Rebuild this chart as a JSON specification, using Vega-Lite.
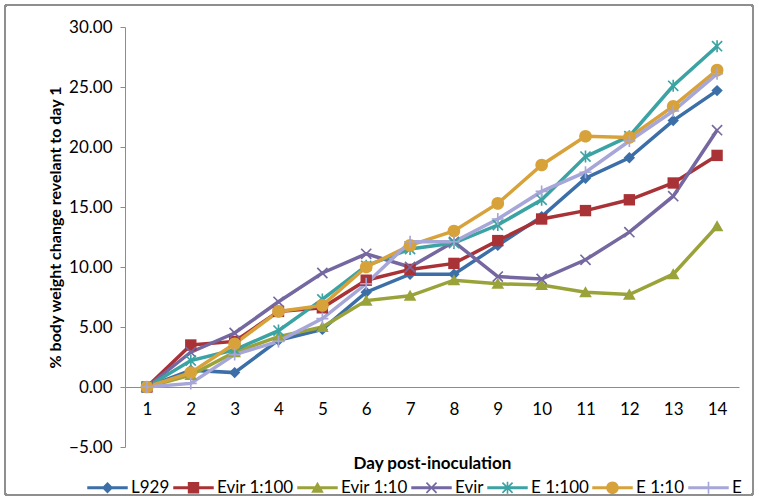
{
  "$schema": "https://vega.github.io/schema/vega-lite/v6.json",
  "width": 614,
  "height": 420,
  "autosize": {"type": "none"},
  "padding": {"left": 125, "top": 27, "right": 20, "bottom": 54},
  "background": "white",
  "config": {
    "view": {"stroke": null},
    "font": "Lato",
    "axis": {"grid": false, "labelFont": "Lato", "titleFont": "Lato", "labelColor": "#000000", "titleColor": "#000000"},
    "legend": {
      "title": null,
      "orient": "none",
      "direction": "horizontal",
      "columns": 7,
      "legendX": -26,
      "legendY": 452,
      "symbolSize": 160,
      "symbolOpacity": 1,
      "symbolStrokeWidth": 0,
      "labelFont": "Lato",
      "labelFontSize": 17,
      "labelColor": "#000000",
      "labelOffset": 15,
      "columnPadding": 3
    }
  },
  "data": {
    "values": [
      {"day": 1, "series": "L929", "value": 0},
      {"day": 2, "series": "L929", "value": 1.4},
      {"day": 3, "series": "L929", "value": 1.2},
      {"day": 4, "series": "L929", "value": 3.9},
      {"day": 5, "series": "L929", "value": 4.8},
      {"day": 6, "series": "L929", "value": 7.9},
      {"day": 7, "series": "L929", "value": 9.4},
      {"day": 8, "series": "L929", "value": 9.4},
      {"day": 9, "series": "L929", "value": 11.8},
      {"day": 10, "series": "L929", "value": 14.2},
      {"day": 11, "series": "L929", "value": 17.4},
      {"day": 12, "series": "L929", "value": 19.1},
      {"day": 13, "series": "L929", "value": 22.2},
      {"day": 14, "series": "L929", "value": 24.7},
      {"day": 1, "series": "Evir 1:100", "value": 0},
      {"day": 2, "series": "Evir 1:100", "value": 3.5},
      {"day": 3, "series": "Evir 1:100", "value": 3.8},
      {"day": 4, "series": "Evir 1:100", "value": 6.3},
      {"day": 5, "series": "Evir 1:100", "value": 6.6},
      {"day": 6, "series": "Evir 1:100", "value": 8.9},
      {"day": 7, "series": "Evir 1:100", "value": 9.8},
      {"day": 8, "series": "Evir 1:100", "value": 10.3},
      {"day": 9, "series": "Evir 1:100", "value": 12.2},
      {"day": 10, "series": "Evir 1:100", "value": 14.0},
      {"day": 11, "series": "Evir 1:100", "value": 14.7},
      {"day": 12, "series": "Evir 1:100", "value": 15.6},
      {"day": 13, "series": "Evir 1:100", "value": 17.0},
      {"day": 14, "series": "Evir 1:100", "value": 19.3},
      {"day": 1, "series": "Evir 1:10", "value": 0},
      {"day": 2, "series": "Evir 1:10", "value": 1.0},
      {"day": 3, "series": "Evir 1:10", "value": 2.9},
      {"day": 4, "series": "Evir 1:10", "value": 4.2},
      {"day": 5, "series": "Evir 1:10", "value": 5.0},
      {"day": 6, "series": "Evir 1:10", "value": 7.2},
      {"day": 7, "series": "Evir 1:10", "value": 7.6},
      {"day": 8, "series": "Evir 1:10", "value": 8.9},
      {"day": 9, "series": "Evir 1:10", "value": 8.6},
      {"day": 10, "series": "Evir 1:10", "value": 8.5},
      {"day": 11, "series": "Evir 1:10", "value": 7.9},
      {"day": 12, "series": "Evir 1:10", "value": 7.7},
      {"day": 13, "series": "Evir 1:10", "value": 9.4},
      {"day": 14, "series": "Evir 1:10", "value": 13.4},
      {"day": 1, "series": "Evir", "value": 0},
      {"day": 2, "series": "Evir", "value": 2.9},
      {"day": 3, "series": "Evir", "value": 4.5},
      {"day": 4, "series": "Evir", "value": 7.1},
      {"day": 5, "series": "Evir", "value": 9.5},
      {"day": 6, "series": "Evir", "value": 11.1},
      {"day": 7, "series": "Evir", "value": 10.0},
      {"day": 8, "series": "Evir", "value": 12.1},
      {"day": 9, "series": "Evir", "value": 9.2},
      {"day": 10, "series": "Evir", "value": 9.0},
      {"day": 11, "series": "Evir", "value": 10.6},
      {"day": 12, "series": "Evir", "value": 12.9},
      {"day": 13, "series": "Evir", "value": 15.9},
      {"day": 14, "series": "Evir", "value": 21.4},
      {"day": 1, "series": "E 1:100", "value": 0},
      {"day": 2, "series": "E 1:100", "value": 2.2},
      {"day": 3, "series": "E 1:100", "value": 3.1},
      {"day": 4, "series": "E 1:100", "value": 4.7},
      {"day": 5, "series": "E 1:100", "value": 7.3},
      {"day": 6, "series": "E 1:100", "value": 10.1},
      {"day": 7, "series": "E 1:100", "value": 11.5},
      {"day": 8, "series": "E 1:100", "value": 12.0},
      {"day": 9, "series": "E 1:100", "value": 13.5},
      {"day": 10, "series": "E 1:100", "value": 15.6},
      {"day": 11, "series": "E 1:100", "value": 19.2},
      {"day": 12, "series": "E 1:100", "value": 20.9},
      {"day": 13, "series": "E 1:100", "value": 25.1},
      {"day": 14, "series": "E 1:100", "value": 28.4},
      {"day": 1, "series": "E 1:10", "value": 0},
      {"day": 2, "series": "E 1:10", "value": 1.2},
      {"day": 3, "series": "E 1:10", "value": 3.6},
      {"day": 4, "series": "E 1:10", "value": 6.3},
      {"day": 5, "series": "E 1:10", "value": 6.8},
      {"day": 6, "series": "E 1:10", "value": 10.0},
      {"day": 7, "series": "E 1:10", "value": 11.8},
      {"day": 8, "series": "E 1:10", "value": 13.0},
      {"day": 9, "series": "E 1:10", "value": 15.3},
      {"day": 10, "series": "E 1:10", "value": 18.5},
      {"day": 11, "series": "E 1:10", "value": 20.9},
      {"day": 12, "series": "E 1:10", "value": 20.8},
      {"day": 13, "series": "E 1:10", "value": 23.4},
      {"day": 14, "series": "E 1:10", "value": 26.4},
      {"day": 1, "series": "E", "value": 0},
      {"day": 2, "series": "E", "value": 0.3},
      {"day": 3, "series": "E", "value": 2.7},
      {"day": 4, "series": "E", "value": 3.8},
      {"day": 5, "series": "E", "value": 5.7},
      {"day": 6, "series": "E", "value": 8.6},
      {"day": 7, "series": "E", "value": 12.1},
      {"day": 8, "series": "E", "value": 12.1},
      {"day": 9, "series": "E", "value": 14.0},
      {"day": 10, "series": "E", "value": 16.3},
      {"day": 11, "series": "E", "value": 17.9},
      {"day": 12, "series": "E", "value": 20.5},
      {"day": 13, "series": "E", "value": 23.0},
      {"day": 14, "series": "E", "value": 26.1}
    ]
  },
  "encoding": {
    "x": {
      "field": "day", "type": "quantitative",
      "scale": {"domain": [0.5, 14.5], "nice": false, "zero": false},
      "axis": {
        "title": "Day post-inoculation",
        "values": [1, 2, 3, 4, 5, 6, 7, 8, 9, 10, 11, 12, 13, 14],
        "format": "d",
        "offset": -60,
        "ticks": false,
        "domainColor": "#8c8c8c",
        "domainWidth": 1,
        "labelFontSize": 17,
        "labelPadding": 14,
        "titleFontSize": 17,
        "titleFontWeight": "bold",
        "titleY": 76,
        "titleBaseline": "middle"
      }
    },
    "y": {
      "field": "value", "type": "quantitative",
      "scale": {"domain": [-5, 30], "nice": false, "zero": false},
      "axis": {
        "title": "% body weight change revelant to day 1",
        "values": [-5, 0, 5, 10, 15, 20, 25, 30],
        "format": ".2f",
        "tickSize": 5,
        "tickColor": "#8c8c8c",
        "domainColor": "#8c8c8c",
        "labelFontSize": 17,
        "labelPadding": 8,
        "titleFontSize": 16,
        "titleFontWeight": "bold",
        "titleX": -70,
        "titleY": 200,
        "titleAlign": "center",
        "titleBaseline": "middle"
      }
    }
  },
  "layer": [
    {
      "mark": {"type": "rect", "clip": false, "fill": null, "fillOpacity": 0, "stroke": "#8f8f8f", "strokeWidth": 1.5, "cornerRadius": 3},
      "encoding": {
        "x": {"datum": -2.236, "type": "quantitative"},
        "x2": {"datum": 14.819},
        "y": {"datum": 31.83, "type": "quantitative"},
        "y2": {"datum": -9.0}
      }
    },
    {
      "encoding": {
        "color": {
          "field": "series", "type": "nominal",
          "scale": {
            "domain": ["L929", "Evir 1:100", "Evir 1:10", "Evir", "E 1:100", "E 1:10", "E"],
            "range": ["#3C6EA8", "#A83236", "#9AA339", "#7567A0", "#3BA3A3", "#D8A23A", "#A6A6D8"]
          },
          "legend": null
        }
      },
      "layer": [
        {
          "mark": {"type": "line", "strokeWidth": 3.5, "clip": false},
          "encoding": {
            "detail": {"field": "series"},
            "order": {"field": "day"}
          }
        },
        {
          "mark": {"type": "point", "filled": true, "opacity": 1, "size": 160, "strokeWidth": 0, "clip": false},
          "encoding": {
            "shape": {
              "field": "series", "type": "nominal",
              "scale": {
                "domain": ["L929", "Evir 1:100", "Evir 1:10", "Evir", "E 1:100", "E 1:10", "E"],
                "range": [
                  "M0,-0.9L0.9,0L0,0.9L-0.9,0Z",
                  "M-0.9,-0.9H0.9V0.9H-0.9Z",
                  "M0,-0.95L1,0.8H-1Z",
                  "M-0.708,-0.892L0.892,0.708L0.708,0.892L-0.892,-0.708ZM-0.892,0.708L0.708,-0.892L0.892,-0.708L-0.708,0.892Z",
                  "M-0.708,-0.892L0.892,0.708L0.708,0.892L-0.892,-0.708ZM-0.892,0.708L0.708,-0.892L0.892,-0.708L-0.708,0.892ZM-0.13,-0.95H0.13V0.95H-0.13Z",
                  "M-1,0A1,1 0 1,1 1,0A1,1 0 1,1 -1,0Z",
                  "M-0.95,-0.13H0.95V0.13H-0.95ZM-0.13,-0.95H0.13V0.95H-0.13Z"
                ]
              },
              "legend": null
            }
          }
        }
      ]
    },
    {
      "transform": [{"filter": "false"}],
      "mark": {"type": "point", "filled": true, "opacity": 1, "size": 160, "strokeWidth": 0, "clip": false},
      "encoding": {
        "color": {
          "field": "series", "type": "nominal",
          "scale": {
            "domain": ["L929", "Evir 1:100", "Evir 1:10", "Evir", "E 1:100", "E 1:10", "E"],
            "range": ["#3C6EA8", "#A83236", "#9AA339", "#7567A0", "#3BA3A3", "#D8A23A", "#A6A6D8"]
          }
        },
        "shape": {
          "field": "series", "type": "nominal",
          "scale": {
            "domain": ["L929", "Evir 1:100", "Evir 1:10", "Evir", "E 1:100", "E 1:10", "E"],
            "range": [
              "M-3.2,-0.24H3.2V0.24H-3.2ZM0,-0.9L0.9,0L0,0.9L-0.9,0Z",
              "M-3.2,-0.24H3.2V0.24H-3.2ZM-0.9,-0.9H0.9V0.9H-0.9Z",
              "M-3.2,-0.24H3.2V0.24H-3.2ZM0,-0.95L1,0.8H-1Z",
              "M-3.2,-0.24H3.2V0.24H-3.2ZM-0.708,-0.892L0.892,0.708L0.708,0.892L-0.892,-0.708ZM-0.892,0.708L0.708,-0.892L0.892,-0.708L-0.708,0.892Z",
              "M-3.2,-0.24H3.2V0.24H-3.2ZM-0.708,-0.892L0.892,0.708L0.708,0.892L-0.892,-0.708ZM-0.892,0.708L0.708,-0.892L0.892,-0.708L-0.708,0.892ZM-0.13,-0.95H0.13V0.95H-0.13Z",
              "M-3.2,-0.24H3.2V0.24H-3.2ZM-1,0A1,1 0 1,1 1,0A1,1 0 1,1 -1,0Z",
              "M-3.2,-0.24H3.2V0.24H-3.2ZM-0.95,-0.13H0.95V0.13H-0.95ZM-0.13,-0.95H0.13V0.95H-0.13Z"
            ]
          }
        }
      }
    }
  ],
  "resolve": {"scale": {"color": "independent", "shape": "independent"}}
}
